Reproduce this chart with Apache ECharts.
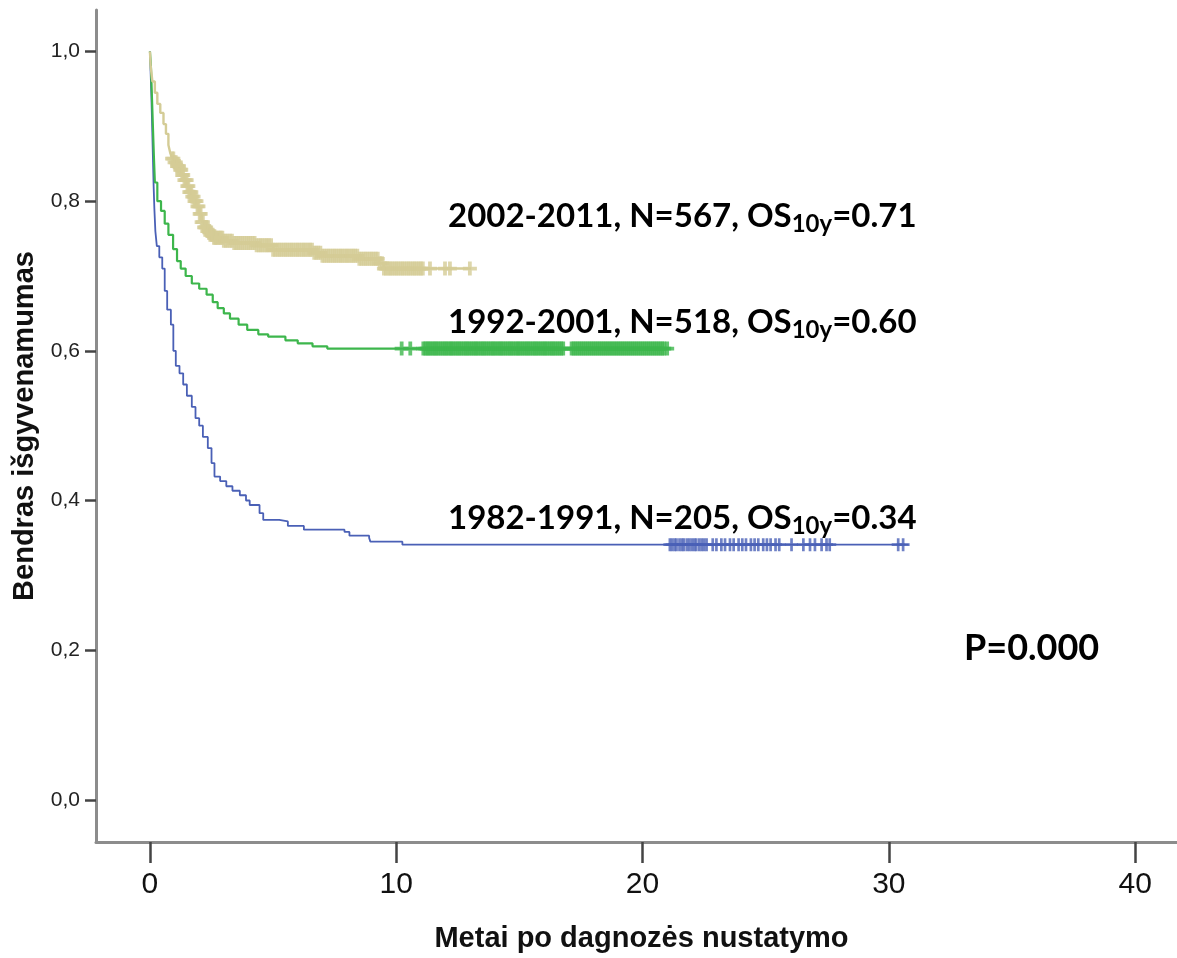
<!DOCTYPE html>
<html><head><meta charset="utf-8">
<script src="https://cdn.jsdelivr.net/npm/echarts@6/dist/echarts.min.js"></script>
<style>html,body{margin:0;padding:0;background:#fff}#c{width:1177px;height:958px}</style>
</head><body><div id="c"></div>
<script>
// ---- tick values / labels ----
const xTicks = [0, 10, 20, 30, 40];
const xTickLabels = ['0', '10', '20', '30', '40'];
const yTicks = [0, 0.2, 0.4, 0.6, 0.8, 1.0];
const yTickLabels = ['0,0', '0,2', '0,4', '0,6', '0,8', '1,0'];

// ---- Kaplan-Meier step curves: [years, survival] ----
const curve1982 = [
  [0, 1.0], [0.03, 0.97], [0.06, 0.94], [0.09, 0.90], [0.12, 0.86], [0.15, 0.82],
  [0.18, 0.79], [0.22, 0.76], [0.28, 0.74], [0.38, 0.725], [0.5, 0.71], [0.6, 0.68],
  [0.7, 0.655], [0.85, 0.635], [0.95, 0.60], [1.05, 0.58], [1.2, 0.57], [1.35, 0.555],
  [1.5, 0.54], [1.7, 0.525], [1.85, 0.51], [2.0, 0.50], [2.15, 0.485], [2.35, 0.47],
  [2.5, 0.45], [2.62, 0.432], [2.85, 0.426], [3.1, 0.419], [3.35, 0.413], [3.65, 0.407],
  [3.9, 0.40], [4.05, 0.394], [4.45, 0.383], [4.6, 0.374], [5.25, 0.372], [5.6, 0.366],
  [6.25, 0.361], [7.9, 0.358], [8.1, 0.353], [8.9, 0.350], [8.95, 0.345], [10.25, 0.341],
  [30.8, 0.341]
];
const curve1992 = [
  [0, 1.0], [0.04, 0.98], [0.08, 0.94], [0.12, 0.90], [0.16, 0.86], [0.2, 0.825],
  [0.3, 0.80], [0.45, 0.787], [0.6, 0.77], [0.75, 0.755], [0.94, 0.736], [1.1, 0.72],
  [1.25, 0.71], [1.45, 0.70], [1.7, 0.69], [2.0, 0.683], [2.3, 0.675], [2.55, 0.665],
  [2.75, 0.657], [3.0, 0.65], [3.25, 0.643], [3.6, 0.635], [3.95, 0.628], [4.4, 0.622],
  [4.8, 0.619], [5.5, 0.614], [6.0, 0.61], [6.6, 0.606], [7.2, 0.603], [21.0, 0.603]
];
const curve2002 = [
  [0, 1.0], [0.03, 0.98], [0.1, 0.96], [0.2, 0.945], [0.3, 0.93], [0.42, 0.918],
  [0.55, 0.903], [0.65, 0.89], [0.75, 0.875], [0.82, 0.865], [0.9, 0.857], [1.0, 0.852],
  [1.1, 0.847], [1.2, 0.842], [1.3, 0.835], [1.4, 0.828], [1.5, 0.82], [1.6, 0.812],
  [1.7, 0.806], [1.8, 0.80], [1.9, 0.793], [2.0, 0.783], [2.1, 0.772], [2.2, 0.765],
  [2.3, 0.76], [2.45, 0.755], [2.6, 0.751], [3.0, 0.747], [3.4, 0.744], [4.3, 0.741],
  [5.0, 0.735], [6.6, 0.731], [7.0, 0.727], [8.5, 0.723], [9.3, 0.717], [9.5, 0.71],
  [13.05, 0.71]
];

// ---- censoring times (years) ----
const censor1982 = [
  21.11, 21.2, 21.3, 21.38, 21.5, 21.6, 21.68, 21.8, 21.9, 22.0, 22.1, 22.18, 22.3, 22.4, 22.5, 22.6,
  22.85, 23.0, 23.2, 23.35, 23.55, 23.7, 23.9, 24.05, 24.2, 24.4, 24.55, 24.7, 24.9, 25.05,
  25.2, 25.4, 25.55, 26.05, 26.53, 26.8, 27.0, 27.27, 27.47, 27.6, 30.38, 30.58
];
const censor1992 = [
  10.22, 10.57,
  11.1, 11.18, 11.26, 11.33, 11.41, 11.49, 11.57, 11.64, 11.72, 11.8, 11.88, 11.96, 12.03,
  12.11, 12.19, 12.26, 12.34, 12.42, 12.5, 12.57, 12.65, 12.73, 12.81, 12.88, 12.96, 13.04,
  13.12, 13.2, 13.27, 13.35, 13.43, 13.51, 13.58, 13.66, 13.74, 13.82, 13.9, 13.97, 14.05,
  14.13, 14.21, 14.28, 14.36, 14.44, 14.52, 14.6, 14.67, 14.75, 14.83, 14.91, 14.98, 15.06,
  15.14, 15.22, 15.3, 15.37, 15.45, 15.53, 15.61, 15.68, 15.76, 15.84, 15.92, 16.0, 16.07,
  16.15, 16.23, 16.31, 16.38, 16.46, 16.54, 16.62, 16.7, 16.78,
  17.12, 17.2, 17.28, 17.36, 17.44, 17.52, 17.6, 17.68, 17.76, 17.84, 17.92, 18.0, 18.08,
  18.16, 18.24, 18.32, 18.4, 18.48, 18.56, 18.64, 18.72, 18.8, 18.88, 18.96, 19.04, 19.12,
  19.2, 19.28, 19.36, 19.44, 19.52, 19.6, 19.68, 19.76, 19.84, 19.92, 20.0, 20.08, 20.16,
  20.24, 20.32, 20.4, 20.48, 20.56, 20.64, 20.72, 20.8, 20.88, 21.0
];
const censor2002 = [
  0.9, 0.95, 1.0, 1.05, 1.1, 1.14, 1.18, 1.23, 1.27, 1.31, 1.35, 1.4, 1.45, 1.49, 1.52,
  1.56, 1.6, 1.64, 1.68, 1.72, 1.77, 1.81, 1.85, 1.89, 1.93, 1.97, 2.02, 2.06, 2.1, 2.15,
  2.2, 2.24, 2.28, 2.33, 2.37, 2.41, 2.45, 2.5, 2.55, 2.6, 2.65, 2.7, 2.76, 2.82, 2.88,
  2.94, 3.0, 3.08, 3.16, 3.25, 3.33, 3.42, 3.5, 3.58, 3.66, 3.75, 3.83, 3.92, 4.0, 4.08,
  4.17, 4.25, 4.33, 4.42, 4.5, 4.58, 4.67, 4.75, 4.83, 4.92, 5.0, 5.08, 5.17, 5.25, 5.33,
  5.42, 5.5, 5.58, 5.67, 5.75, 5.83, 5.92, 6.0, 6.08, 6.17, 6.25, 6.33, 6.42, 6.5, 6.58,
  6.67, 6.75, 6.83, 6.92, 7.0, 7.08, 7.17, 7.25, 7.33, 7.42, 7.5, 7.58, 7.67, 7.75, 7.83,
  7.92, 8.0, 8.08, 8.17, 8.25, 8.33, 8.42, 8.5, 8.58, 8.67, 8.75, 8.83, 8.92, 9.0, 9.08,
  9.17, 9.25, 9.33, 9.42, 9.5, 9.58, 9.67, 9.75, 9.83, 9.92, 10.0, 10.08, 10.17, 10.25,
  10.33, 10.42, 10.5, 10.58, 10.67, 10.75, 10.83, 10.92, 11.0, 11.08,
  11.37, 11.98, 12.18, 12.99
];

// ---- annotation texts ----
const labels = [
  { period: '1982-1991', n: 205, os: '0.34' },
  { period: '1992-2001', n: 518, os: '0.60' },
  { period: '2002-2011', n: 567, os: '0.71' }
];
const pText = 'P=0.000';

const colors = ['#4a60b6', '#3db64c', '#d4cc96'];

function stepValue(curve, t) {
  let v = curve[0][1];
  for (const p of curve) { if (p[0] <= t) v = p[1]; else break; }
  return v;
}
const plusThin = 'path://M5,0h2.6v5h5v2.6h-5v5h-2.6v-5h-5v-2.6h5z';
const plusThick = 'path://M4.6,0h3.4v4.6h4.6v3.4h-4.6v4.6h-3.4v-4.6h-4.6v-3.4h4.6z';

function lineSeries(name, curve, color, width) {
  return { name, type: 'line', step: 'end', data: curve, showSymbol: false, symbol: 'none',
    lineStyle: { color, width }, itemStyle: { color }, silent: true, z: 2 };
}
function censorSeries(name, curve, times, color, size, sym) {
  return { name, type: 'scatter', data: times.map(t => [t, stepValue(curve, t)]),
    symbol: sym, symbolSize: size, itemStyle: { color }, silent: true, z: 3 };
}

const labelFont = { fontFamily: 'Lato', fontWeight: 'bold', color: '#000' };
function annotation(lab, top) {
  return {
    type: 'text', x: 448, y: top, z: 10,
    style: {
      text: '{a|' + lab.period + ', N=' + lab.n + ', OS}{b|10y}{a|=' + lab.os + '}',
      verticalAlign: 'top', align: 'left',
      rich: {
        a: Object.assign({ fontSize: 33, lineHeight: 40, verticalAlign: 'middle' }, labelFont),
        b: Object.assign({ fontSize: 24, lineHeight: 22, verticalAlign: 'bottom' }, labelFont)
      }
    }
  };
}

const chart = echarts.init(document.getElementById('c'), null, { renderer: 'canvas' });
chart.setOption({
  animation: false,
  backgroundColor: '#fff',
  grid: { left: 96, top: 10, width: 1081, height: 835.7, containLabel: false },
  xAxis: {
    type: 'value', min: -2.19, max: 41.7,
    axisLine: { show: true, onZero: false, lineStyle: { color: '#8c8c8c', width: 3 } },
    axisTick: { show: true, customValues: xTicks, length: 21, lineStyle: { color: '#444', width: 2.5 } },
    axisLabel: { customValues: xTicks, formatter: v => xTickLabels[xTicks.findIndex(t => Math.abs(t - v) < 1e-9)],
      fontFamily: 'Liberation Sans', fontSize: 30, color: '#111', margin: 28 },
    splitLine: { show: false },
    name: 'Metai po dagnozės nustatymo', nameLocation: 'middle', nameGap: 82,
    nameTextStyle: { fontFamily: 'Liberation Sans', fontWeight: 'bold', fontSize: 29, color: '#111', padding: [0, 0, 0, 10] }
  },
  yAxis: {
    type: 'value', min: -0.0564, max: 1.0555,
    axisLine: { show: true, onZero: false, lineStyle: { color: '#8c8c8c', width: 3 } },
    axisTick: { show: true, customValues: yTicks, length: 11, lineStyle: { color: '#444', width: 2.5 } },
    axisLabel: { customValues: yTicks, formatter: v => yTickLabels[yTicks.findIndex(t => Math.abs(t - v) < 1e-9)],
      fontFamily: 'Liberation Sans', fontSize: 21, color: '#222', margin: 16 },
    splitLine: { show: false },
    name: 'Bendras išgyvenamumas', nameLocation: 'middle', nameRotate: 90, nameGap: 45,
    nameTextStyle: { fontFamily: 'Liberation Sans', fontWeight: 'bold', fontSize: 29, color: '#111' }
  },
  series: [
    lineSeries(labels[0].period, curve1982, colors[0], 1.8),
    lineSeries(labels[1].period, curve1992, colors[1], 2.2),
    lineSeries(labels[2].period, curve2002, colors[2], 2.4),
    censorSeries(labels[0].period + ' censored', curve1982, censor1982, colors[0], 13, plusThin),
    censorSeries(labels[1].period + ' censored', curve1992, censor1992, colors[1], 14, plusThick),
    censorSeries(labels[2].period + ' censored', curve2002, censor2002, colors[2], 14, plusThick)
  ],
  graphic: [
    annotation(labels[2], 196.6),
    annotation(labels[1], 302.6),
    annotation(labels[0], 498.6),
    { type: 'text', x: 964, y: 648, z: 10,
      style: Object.assign({ text: pText, fontSize: 36, verticalAlign: 'middle' }, labelFont, { fill: '#000' }) }
  ]
});
</script></body></html>
